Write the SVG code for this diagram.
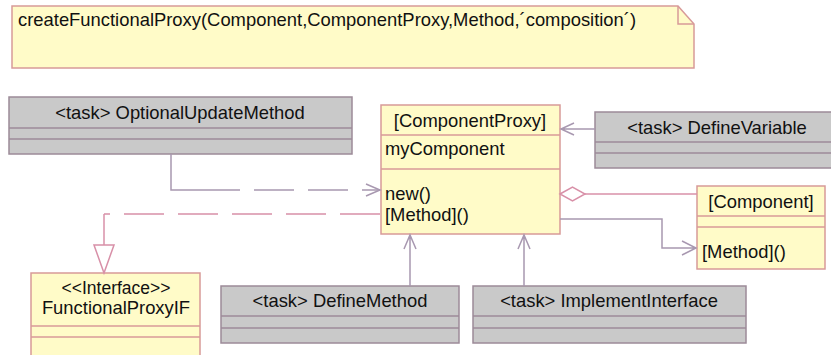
<svg xmlns="http://www.w3.org/2000/svg" width="831" height="355" viewBox="0 0 831 355">
<style>
text{font-family:"Liberation Sans",Arial,sans-serif;font-size:18.4px;fill:#111}
.c{text-anchor:middle}
.s{font-size:17.5px}
.y{fill:#fffbc8;stroke:#d89a98;stroke-width:1.5}
.g{fill:#c9c9c9;stroke:#9c8a98;stroke-width:1.5}
.yl{stroke:#d89a98;stroke-width:1.5}
.gl{stroke:#9c8a98;stroke-width:1.5}
.ln{fill:none;stroke:#a898b0;stroke-width:1.5}
.pk{fill:none;stroke:#d890a8;stroke-width:1.5}
</style>
<rect width="831" height="355" fill="#fff"/>
<g id="note">
<path class="y" d="M12,6 H678 L694,24 V68 H12 Z"/>
<path class="yl" fill="none" d="M678,6 V24 H694"/>
<text x="18" y="26">createFunctionalProxy(Component,ComponentProxy,Method,´composition´)</text>
</g>
<g id="OptionalUpdateMethod">
<rect class="g" x="9" y="97" width="343" height="57"/>
<line class="gl" x1="9" y1="128" x2="352" y2="128"/>
<line class="gl" x1="9" y1="139" x2="352" y2="139"/>
<text class="c" x="180" y="119">&lt;task&gt; OptionalUpdateMethod</text>
</g>
<g id="ComponentProxy">
<rect class="y" x="381" y="105" width="179" height="129"/>
<line class="yl" x1="381" y1="135" x2="560" y2="135"/>
<line class="yl" x1="381" y1="169" x2="560" y2="169"/>
<text class="c" x="470" y="127">[ComponentProxy]</text>
<text x="385" y="155">myComponent</text>
<text x="385" y="200">new()</text>
<text x="385" y="221">[Method]()</text>
</g>
<g id="DefineVariable">
<rect class="g" x="595" y="112" width="240" height="56"/>
<line class="gl" x1="595" y1="142" x2="831" y2="142"/>
<line class="gl" x1="595" y1="153" x2="831" y2="153"/>
<text class="c" x="717" y="134">&lt;task&gt; DefineVariable</text>
</g>
<g id="Component">
<rect class="y" x="697" y="186" width="128" height="83"/>
<line class="yl" x1="697" y1="216" x2="825" y2="216"/>
<line class="yl" x1="697" y1="227" x2="825" y2="227"/>
<text class="c" x="761" y="208">[Component]</text>
<text x="702" y="258">[Method]()</text>
</g>
<g id="FunctionalProxyIF">
<rect class="y" x="31" y="273" width="169" height="90"/>
<line class="yl" x1="31" y1="326" x2="200" y2="326"/>
<line class="yl" x1="31" y1="337" x2="200" y2="337"/>
<text class="c s" x="116" y="294">&lt;&lt;Interface&gt;&gt;</text>
<text class="c" x="116" y="314">FunctionalProxyIF</text>
</g>
<g id="DefineMethod">
<rect class="g" x="221" y="286" width="238" height="57"/>
<line class="gl" x1="221" y1="316" x2="459" y2="316"/>
<line class="gl" x1="221" y1="328" x2="459" y2="328"/>
<text class="c" x="340" y="307">&lt;task&gt; DefineMethod</text>
</g>
<g id="ImplementInterface">
<rect class="g" x="473" y="286" width="273" height="57"/>
<line class="gl" x1="473" y1="316" x2="746" y2="316"/>
<line class="gl" x1="473" y1="328" x2="746" y2="328"/>
<text class="c" x="609" y="307">&lt;task&gt; ImplementInterface</text>
</g>
<g id="connectors">
<path class="ln" d="M171,154 V190 H200"/>
<path class="ln" stroke-dasharray="40,14" d="M200,190 H380"/>
<path class="ln" d="M366,184 L380,190 L366,196"/>
<path class="pk" stroke-dasharray="40,14" d="M380,214 H104"/>
<path class="pk" d="M104,214 V245"/>
<path class="pk" d="M94,245 H114 L104,273 Z" fill="#fff"/>
<path class="ln" d="M595,129 H562 M574,123 L561,129 L574,135"/>
<path class="pk" d="M585,194 H697"/>
<path class="pk" d="M560,194 L572.5,187 L585,194 L572.5,201 Z" fill="#fff"/>
<path class="ln" d="M560,219 H662 V248 H696 M682,241 L696,248 L682,255"/>
<path class="ln" d="M410,286 V236 M404,249 L410,235 L416,249"/>
<path class="ln" d="M524,286 V236 M518,249 L524,235 L530,249"/>
</g>
</svg>
